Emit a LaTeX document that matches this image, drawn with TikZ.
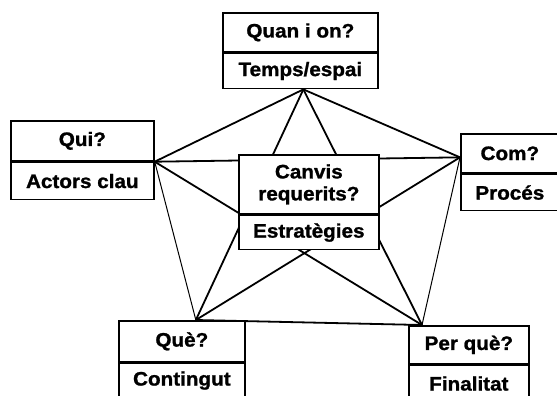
\documentclass[tikz,border=0pt]{standalone}
\usepackage{fontspec}
\setmainfont{Liberation Sans}[FakeStretch=1.06, BoldFeatures={FakeBold=1.2}]
\usetikzlibrary{positioning, backgrounds}

\begin{document}
\begin{tikzpicture}[
    x=1pt, y=-1pt,
    quest/.style={rectangle, draw=black, fill=white, line width=1.7pt, align=center, inner sep=0pt, font=\fontsize{19.5}{22}\selectfont\bfseries},
    answ/.style={quest, below=0pt of #1},
    link/.style={line width=1.8pt, draw=black},
    thinlink/.style={line width=1pt, draw=black}
]
    \useasboundingbox (0,0) rectangle (557,396);

    \node[quest, anchor=north west, minimum width=155pt, minimum height=39pt] (quan) at (222,12) {Quan i on?};
    \node[answ=quan, minimum width=155pt, minimum height=35pt] (temps) {Temps/espai};

    \node[quest, anchor=north west, minimum width=143pt, minimum height=40pt] (qui) at (10,120) {Qui?};
    \node[answ=qui, minimum width=143pt, minimum height=37pt] (actors) {Actors clau};

    \node[quest, anchor=north west, minimum width=140pt, minimum height=59pt] (canvis) at (238,154) {Canvis\\requerits?};
    \node[answ=canvis, minimum width=140pt, minimum height=34pt] (estrategies) {Estratègies};

    \node[quest, anchor=north west, minimum width=98pt, minimum height=39pt] (com) at (460,133) {Com?};
    \node[answ=com, minimum width=98pt, minimum height=36pt] (proces) {Procés};

    \node[quest, anchor=north west, minimum width=126pt, minimum height=41pt] (que) at (118,320) {Què?};
    \node[answ=que, minimum width=126pt, minimum height=34pt] (contingut) {Contingut};

    \node[quest, anchor=north west, minimum width=120pt, minimum height=38pt] (perque) at (408,325) {Per què?};
    \node[answ=perque, minimum width=120pt, minimum height=36pt] (finalitat) {Finalitat};

    % points of the star
    \coordinate (ptop) at ([xshift=3pt]temps.south);
    \coordinate (pleft) at (qui.south east);
    \coordinate (pright) at ([yshift=-4pt]com.west);
    \coordinate (pque) at ([xshift=14pt]que.north);
    \coordinate (pperque) at ([xshift=14pt]perque.north west);

    \begin{scope}[on background layer]
        % pentagon
        \draw[link] (ptop) -- (pleft);
        \draw[thinlink] (pleft) -- (pque);
        \draw[link] (pque) -- (pperque);
        \draw[thinlink] (pperque) -- (pright);
        \draw[link] (pright) -- (ptop);
        % star
        \draw[link] (ptop) -- (pque);
        \draw[link] (ptop) -- (pperque);
        \draw[link] (pleft) -- (pright);
        \draw[link] (pleft) -- (pperque);
        \draw[link] (pright) -- (pque);
    \end{scope}
\end{tikzpicture}
\end{document}
